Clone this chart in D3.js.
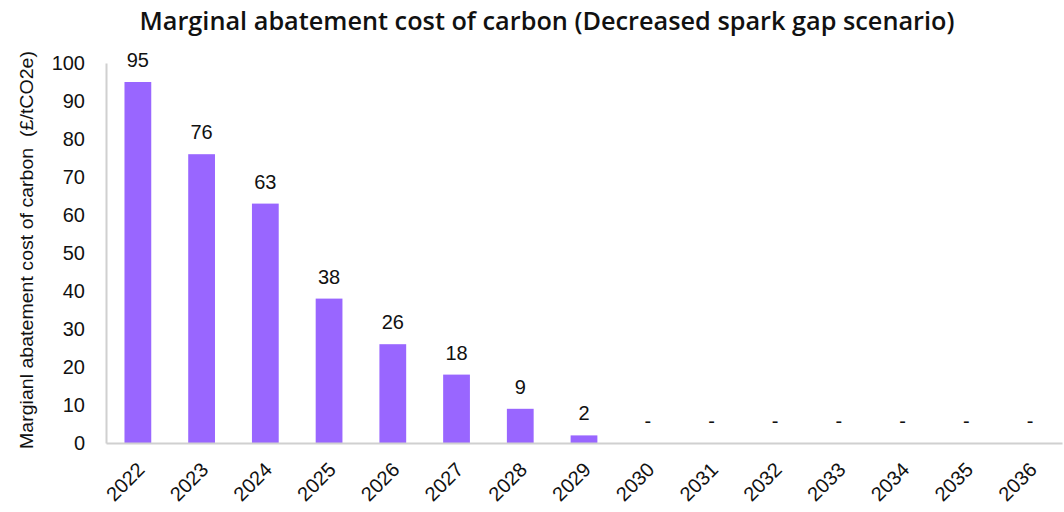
<!DOCTYPE html>
<html><head><meta charset="utf-8">
<script src="https://cdn.jsdelivr.net/npm/d3@7"></script>
<style>body{margin:0;background:#fff}svg{display:block}</style>
</head><body>
<svg id="c" width="1064" height="512"></svg>
<script>
const years = ["2022","2023","2024","2025","2026","2027","2028","2029","2030","2031","2032","2033","2034","2035","2036"];
const values = [95,76,63,38,26,18,9,2,0,0,0,0,0,0,0];
const yTicks = [0,10,20,30,40,50,60,70,80,90,100];
const titleText = "Marginal abatement cost of carbon (Decreased spark gap scenario)";
const yTitle = "Margianl abatement cost of carbon  (£/tCO2e)";

const svg = d3.select("#c");
const L = 106, R = 1062, T = 63, B = 443;
const x = d3.scaleBand().domain(years).range([L, R]).paddingInner(0.58).paddingOuter(0.29);
const y = d3.scaleLinear().domain([0,100]).range([B, T]);
const FONT = "Liberation Sans, Arial, sans-serif";

svg.append("text").attr("x", 547).attr("y", 30).attr("text-anchor","middle")
  .attr("font-family","Open Sans").attr("font-weight",600).attr("font-size",24.5).attr("fill","#111")
  .attr("textLength",815).attr("lengthAdjust","spacingAndGlyphs")
  .text(titleText);

// bars
svg.selectAll("rect.bar").data(values).join("rect").attr("class","bar")
  .attr("x",(d,i)=>x(years[i])).attr("width",x.bandwidth())
  .attr("y",d=>y(d)).attr("height",d=>B-y(d)).attr("fill","#9966ff");

// axes
const ax = svg.append("g").attr("transform",`translate(${L},0)`)
  .call(d3.axisLeft(y).tickValues(yTicks).tickSize(0).tickPadding(21));
ax.select(".domain").attr("stroke","#d0d0d0").attr("stroke-width",2);
ax.selectAll("text").attr("font-family",FONT).attr("font-size",20).attr("fill","#111");

const bx = svg.append("g").attr("transform",`translate(0,${B})`)
  .call(d3.axisBottom(x).tickSize(0).tickPadding(0));
bx.select(".domain").attr("stroke","#d0d0d0").attr("stroke-width",2);
bx.selectAll("text").attr("font-family",FONT).attr("font-size",20).attr("fill","#111")
  .attr("text-anchor","end").attr("dy",0).attr("y",0)
  .attr("transform","translate(8,28) rotate(-45)");

// value labels
svg.selectAll("text.val").data(values).join("text").attr("class","val")
  .attr("x",(d,i)=>x(years[i])+x.bandwidth()/2)
  .attr("y",d=>y(d)-15)
  .attr("text-anchor","middle").attr("font-family",FONT).attr("font-size",20).attr("fill","#111")
  .text(d=>d===0?"-":d);

// y title
svg.append("text").attr("transform","translate(33,250) rotate(-90)").attr("text-anchor","middle")
  .attr("font-family",FONT).attr("font-size",17.5).attr("fill","#111")
  .attr("textLength",398).attr("lengthAdjust","spacingAndGlyphs")
  .style("white-space","pre")
  .text(yTitle);
</script>
</body></html>
